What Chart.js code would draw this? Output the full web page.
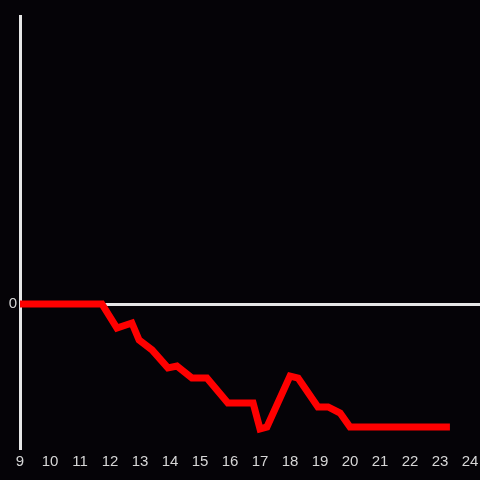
<!DOCTYPE html>
<html>
<head>
<meta charset="utf-8">
<script src="https://cdn.jsdelivr.net/npm/chart.js@4"></script>
<style>
html,body{margin:0;padding:0;background:#050307;}
#wrap{width:480px;height:480px;}
</style>
</head>
<body>
<div id="wrap"><canvas id="c" width="480" height="480"></canvas></div>
<script>
const hours = [9.0, 11.73, 12.23, 12.73, 12.97, 13.4, 13.93, 14.23, 14.73, 15.23, 15.93, 16.77, 17.0, 17.23, 18.0, 18.27, 18.93, 19.27, 19.67, 20.0, 23.33];
const values = [0, 0, -0.167, -0.132, -0.25, -0.319, -0.444, -0.431, -0.514, -0.514, -0.688, -0.688, -0.868, -0.854, -0.5, -0.514, -0.715, -0.715, -0.757, -0.854, -0.854];
const xTicks = [9,10,11,12,13,14,15,16,17,18,19,20,21,22,23,24];

const axisColor = '#e6e6e6';
const labelColor = '#d6d6d6';

new Chart(document.getElementById('c'), {
  type: 'line',
  data: {
    datasets: [{
      data: hours.map((h, i) => ({x: h, y: values[i]})),
      borderColor: '#ff0000',
      borderWidth: 7,
      pointRadius: 0,
      tension: 0,
      fill: false
    }]
  },
  options: {
    responsive: false,
    animation: false,
    layout: {padding: {top: 16, left: 0, right: 0, bottom: 0}},
    plugins: {legend: {display: false}, tooltip: {enabled: false}},
    scales: {
      x: {
        type: 'linear',
        min: 9,
        max: 24.333,
        afterBuildTicks: (s) => { s.ticks = xTicks.map(v => ({value: v})); },
        afterFit: (s) => { s.height = 32; s.paddingRight = 0; s.paddingLeft = 0; },
        grid: {display: false, drawTicks: false},
        border: {display: false},
        ticks: {color: labelColor, font: {family: 'Liberation Sans, Arial', size: 15}, padding: 5, autoSkip: false, maxRotation: 0}
      },
      y: {
        min: -1,
        max: 2,
        afterBuildTicks: (s) => { s.ticks = [{value: 0}]; },
        afterFit: (s) => { s.width = 20; s.paddingTop = 0; s.paddingBottom = 0; },
        grid: {
          drawTicks: false,
          color: (ctx) => ctx.tick && ctx.tick.value === 0 ? axisColor : 'rgba(0,0,0,0)',
          lineWidth: 3
        },
        border: {display: true, color: axisColor, width: 3},
        ticks: {color: labelColor, font: {family: 'Liberation Sans, Arial', size: 15}, padding: 3}
      }
    }
  }
});
</script>
</body>
</html>
